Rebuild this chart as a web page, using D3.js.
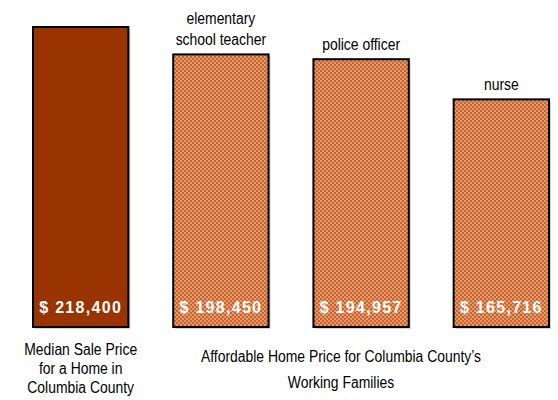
<!DOCTYPE html>
<html><head><meta charset="utf-8">
<script src="https://cdn.jsdelivr.net/npm/d3@7"></script>
<style>body{margin:0;background:#fff}svg{display:block}</style>
</head><body>
<svg id="c" width="558" height="400"></svg>
<script>
const categories = ["median", "teacher", "police", "nurse"];
const values = [218400, 198450, 194957, 165716];
const valueLabels = ["$ 218,400", "$ 198,450", "$ 194,957", "$ 165,716"];
const topLabels = [[], ["elementary", "school teacher"], ["police officer"], ["nurse"]];
const bottomLeft = ["Median Sale Price", "for a Home in", "Columbia County"];
const bottomRight = ["Affordable Home Price for Columbia County\u2019s", "Working Families"];

const svg = d3.select("#c");
const defs = svg.append("defs");
const pat = defs.append("pattern").attr("id", "chk").attr("width", 4).attr("height", 4)
  .attr("patternUnits", "userSpaceOnUse");
pat.append("rect").attr("width", 4).attr("height", 4).attr("fill", "#C9642F");
pat.append("rect").attr("width", 2).attr("height", 2).attr("fill", "#E39A6C");
pat.append("rect").attr("x", 2).attr("y", 2).attr("width", 2).attr("height", 2).attr("fill", "#E39A6C");

const x = d3.scaleBand().domain(categories).range([33, 549]).paddingInner(0.32).paddingOuter(0);
const y = d3.scaleLinear().domain([0, 218400]).range([327, 27]);

const FONT = "Liberation Sans, Arial, sans-serif";
const SX = 0.87;

function narrowText(parent, cx, cy, t, size) {
  parent.append("text")
    .attr("transform", `translate(${cx},${cy}) scale(${SX},1)`)
    .attr("text-anchor", "middle").attr("fill", "#000")
    .attr("font-family", FONT).attr("font-size", size).text(t);
}

const g = svg.append("g");
g.selectAll("rect.sh").data(values).join("rect").attr("class", "sh")
  .attr("x", (d, i) => x(categories[i]) + 2).attr("y", d => y(d) + 2)
  .attr("width", x.bandwidth()).attr("height", d => y(0) - y(d))
  .attr("fill", "#d4d4d4");
g.selectAll("rect.bar").data(values).join("rect").attr("class", "bar")
  .attr("x", (d, i) => x(categories[i])).attr("y", d => y(d))
  .attr("width", x.bandwidth()).attr("height", d => y(0) - y(d))
  .attr("fill", (d, i) => i === 0 ? "#993300" : "url(#chk)")
  .attr("stroke", "#000").attr("stroke-width", 2);

g.selectAll("text.val").data(valueLabels).join("text").attr("class", "val")
  .attr("x", (d, i) => x(categories[i]) + x.bandwidth() / 2).attr("y", 313)
  .attr("text-anchor", "middle").attr("fill", "#fff")
  .attr("font-family", FONT).attr("font-weight", "bold")
  .attr("font-size", 16).attr("letter-spacing", 1.3).text(d => d);

topLabels.forEach((lines, i) => {
  const n = lines.length;
  lines.forEach((t, j) => {
    narrowText(svg, x(categories[i]) + x.bandwidth() / 2, y(values[i]) - 9 - (n - 1 - j) * 21, t, 16);
  });
});

bottomLeft.forEach((t, j) => {
  narrowText(svg, x(categories[0]) + x.bandwidth() / 2, 355 + j * 19, t, 16);
});
bottomRight.forEach((t, j) => {
  narrowText(svg, 341, 362 + j * 26, t, 16);
});
</script>
</body></html>
